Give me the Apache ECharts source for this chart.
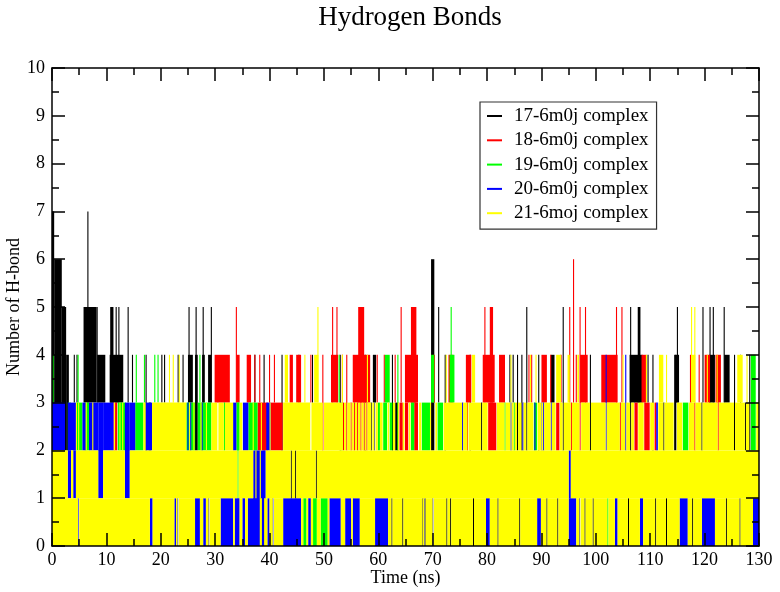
<!DOCTYPE html>
<html>
<head>
<meta charset="utf-8">
<script src="https://cdn.jsdelivr.net/npm/echarts@6/dist/echarts.min.js"></script>
<style>
html,body{margin:0;padding:0;background:#fff;}
#chart{width:780px;height:592px;}
</style>
</head>
<body>
<div id="chart"></div>
<script>
// Each entry: [time start (ns), time end (ns), lowest H-bond count, highest H-bond count]
// i.e. the range the H-bond count fluctuates over during that time window.
var seriesNames = ['17-6m0j complex', '18-6m0j complex', '19-6m0j complex', '20-6m0j complex', '21-6moj complex'];
var seriesColors = ['#000000', '#ff0000', '#00ff00', '#0000ff', '#ffff00'];

var hb17 = [
  [0,0.4,2,7],[0.4,1.8,2,6],[1.8,2.6,2,5],[2.6,3.1,2,4],[4.1,4.1,3,4],[4.6,4.6,3,4],
  [5.8,8.2,3,5],[6.6,6.6,3,7],[8.3,8.3,3,5],[8.3,9.8,3,4],
  [10.7,11.3,3,5],[11.8,11.8,3,5],[12.3,12.3,3,5],[10.6,13.1,3,4],[14.0,14.0,3,5],
  [14.8,14.8,3,4],[17.3,17.3,2,4],[17.8,18.2,2,3],[20.2,20.2,3,4],[20.7,20.7,3,4],
  [23.2,23.2,3,4],[24.1,24.1,3,4],[25.0,25.9,3,4],[25.2,25.2,3,5],
  [26.3,26.8,2,4],[26.5,26.5,3,5],[27.6,28.1,3,4],[27.8,27.8,3,5],[28.7,29.3,3,4],[29.3,29.3,3,5],
  [37.3,37.3,3,4],[39.0,39.0,2,4],[42.3,42.3,2,4],[44.0,44.0,1,2],[44.8,44.8,1,2],[45.4,45.4,3,4],
  [47.9,47.9,3,4],[48.6,48.6,1,2],[53.0,53.0,2,4],
  [57.6,57.6,2,4],[58.7,58.9,2,3],[59.0,59.6,3,4],[62.6,62.6,2,4],[63.1,63.7,2,3],
  [62.5,62.5,0,1],[64.5,64.5,0,1],[68.2,68.2,0,1],[68.6,68.6,0,1],[72.6,72.6,0,1],[73.3,73.3,0,1],
  [77.5,77.5,0,1],[82.0,82.0,0,1],[86.0,86.0,0,1],[91.0,91.0,0,1],[93.0,93.0,0,1],[98.0,98.0,0,1],
  [99.5,99.5,0,1],[106.0,106.0,0,1],[111.0,111.0,0,1],[113.0,113.0,0,1],[117.8,117.8,0,1],
  [124.0,124.0,0,1],[126.5,126.5,0,1],
  [69.7,70.3,2,6],[71.1,71.1,3,5],[72.3,72.3,2,4],[76.9,76.9,2,4],[79.0,79.0,2,3],
  [84.2,84.2,3,4],[84.8,84.8,3,4],[85.6,85.6,2,4],[86.4,86.4,2,4],[87.3,87.3,2,5],
  [89.5,89.5,2,4],[91.7,92.4,3,4],[94.0,94.0,2,5],[99.0,99.0,2,4],
  [106.2,108.6,3,4],[106.4,106.4,2,5],[107.7,108.2,3,5],[109.6,109.6,3,4],[110.5,110.5,2,4],
  [112.5,112.5,2,3],[114.4,114.8,2,4],[114.6,115.3,3,4],[115.0,115.0,3,5],
  [119.5,119.5,2,3],[119.7,119.7,3,5],[120.8,121.9,3,4],[121.0,121.0,3,5],[121.6,121.6,3,5],
  [123.6,124.6,3,4],[123.6,123.6,3,5],[125.5,125.5,2,4],[126.6,126.6,3,4],[127.5,127.5,2,3],[128.3,128.3,2,4]
];

var hb18 = [
  [11.3,12.0,2,3],[29.9,32.7,3,4],[33.9,33.9,3,5],[33.9,34.5,3,4],[35.8,36.6,3,4],
  [37.3,37.3,3,4],[38.2,38.2,3,4],[40.0,40.0,3,4],[40.9,40.9,3,4],[37.8,39.7,2,3],[40.2,42.4,2,3],
  [43.7,44.3,3,4],[44.9,45.8,3,4],[47.6,47.6,3,4],[49.8,49.8,2,4],
  [51.3,52.6,3,4],[51.6,51.6,3,5],[52.4,52.4,3,5],[53.4,53.4,3,4],[54.2,54.2,2,4],
  [53.6,53.6,2,3],[55.0,55.0,2,3],[55.3,58.5,3,4],[56.3,57.4,3,5],
  [55.6,55.6,2,3],[56.2,56.2,2,3],[56.8,56.8,2,3],[57.4,57.4,2,3],[57.9,57.9,2,3],
  [59.8,59.8,3,4],[61.1,61.1,3,4],[63.1,63.1,3,4],[63.9,64.5,2,3],[64.2,64.2,3,5],
  [64.9,67.3,3,4],[66.0,67.0,3,5],[64.9,65.5,2,3],[66.6,67.3,2,3],
  [70.0,70.4,3,4],[72.9,73.8,3,4],[76.1,77.1,3,4],[76.4,76.6,2,3],
  [79.2,81.4,3,4],[79.6,79.6,3,5],[80.5,81.1,3,5],[80.2,81.7,2,3],[82.2,83.3,3,4],
  [87.7,87.7,3,4],[88.2,88.2,3,4],[90.0,91.0,3,4],[91.7,91.7,3,4],[93.6,93.6,3,4],[92.7,93.3,2,3],
  [95.2,95.2,3,5],[95.5,95.5,2,3],[95.9,95.9,3,6],[96.4,96.4,3,4],[97.1,98.5,3,4],[97.1,97.1,2,5],[98.1,98.1,3,5],
  [101.0,104.0,3,4],[103.8,103.8,3,5],[104.5,104.5,2,3],[104.8,104.8,3,5],
  [107.1,107.7,2,3],[108.4,109.3,3,4],[108.9,109.9,2,3],[110.8,111.1,2,3],
  [117.3,117.6,3,4],[118.2,118.2,2,3],[119.0,119.0,3,4],[120.0,121.0,3,4],[122.0,123.0,3,4],[122.5,122.5,2,3]
];

var hb19 = [
  [0.2,0.2,2,4],[2.9,3.5,2,3],[4.4,5.6,2,3],[4.8,4.8,3,4],[6.0,6.9,2,3],
  [12.1,13.6,2,3],[15.5,15.5,3,4],[15.3,16.8,2,3],[17.0,17.0,3,4],[18.9,18.9,3,4],[19.5,19.5,3,4],
  [24.7,26.3,2,3],[26.8,29.3,2,3],[27.2,27.2,3,4],[31.7,31.7,2,3],[33.9,34.5,2,3],[34.2,34.2,1,3],[36.1,37.8,2,3],
  [46.2,46.8,0,1],[48.0,48.7,0,1],[49.4,50.7,0,1],
  [52.8,52.8,3,4],[53.3,53.3,2,3],[59.9,60.3,2,3],[60.9,61.6,2,3],[61.2,62.1,3,4],[62.1,62.6,2,3],[63.6,63.6,2,4],
  [66.0,66.6,2,3],[68.0,69.5,2,3],[69.7,70.3,3,4],[70.9,71.9,2,3],[73.1,74.0,3,4],[73.4,73.4,3,5],
  [83.3,83.3,2,3],[85.0,85.0,2,3],[88.6,89.2,2,3],[102.2,102.2,0,1],[116.0,117.0,2,3],[128.5,129.4,2,4]
];

var hb20 = [
  [0,2.4,2,3],[2.9,4.4,2,3],[2.9,3.5,1,2],[3.9,4.4,1,2],[4.8,5.0,0,1],[5.6,6.2,2,3],
  [6.8,8.5,2,3],[8.5,9.4,1,3],[9.4,11.3,2,3],[13.4,14.3,1,3],[14.3,15.3,2,3],
  [17.2,18.4,2,3],[18.0,18.5,0,1],[22.5,22.8,0,1],[23.1,23.3,0,1],[25.0,25.0,2,3],[25.5,25.5,2,3],[27.6,27.6,2,3],
  [26.3,27.2,0,1],[27.8,28.3,0,1],[28.8,29.0,0,1],
  [31.0,33.3,0,1],[33.3,33.9,2,3],[33.6,34.5,0,1],[35.0,35.5,0,1],[35.1,36.1,2,3],
  [36.0,38.2,0,1],[37.0,39.3,0,2],[38.6,39.0,0,1],[39.4,40.2,2,3],[39.6,40.0,0,1],[40.6,40.8,0,1],
  [42.5,45.8,0,1],[47.1,47.6,0,1],[51.0,53.1,0,1],[53.9,55.0,0,1],[55.3,56.6,0,1],[59.3,59.5,2,3],[59.4,61.8,0,1],
  [70.0,70.2,0,1],[75.5,75.5,2,3],[79.8,80.5,0,1],[84.4,84.4,2,3],[86.6,86.6,2,3],
  [88.8,88.8,2,3],[89.2,89.9,0,1],[90.1,90.1,2,3],[90.4,90.4,2,3],[91.8,91.8,2,3],
  [95.0,96.4,0,1],[95.0,95.4,1,2],[97.0,97.2,0,1],
  [101.9,101.9,2,4],[103.5,104.0,0,1],[105.5,105.5,2,4],[108.1,108.7,0,1],[111.1,111.4,2,3],
  [115.4,116.9,0,1],[119.5,121.9,0,1],[128.9,130,0,1]
];

var hb21 = [
  // 0 to 1
  [0,4.8,0,1],[5.0,18.0,0,1],[18.5,22.5,0,1],[22.8,23.1,0,1],[23.3,26.3,0,1],[27.2,27.8,0,1],
  [28.3,28.8,0,1],[29.0,31.0,0,1],[33.3,33.6,0,1],[34.5,35.0,0,1],[35.5,36.0,0,1],[38.2,38.6,0,1],
  [39.0,39.6,0,1],[40.0,40.6,0,1],[40.8,42.5,0,1],[45.8,46.2,0,1],[46.8,47.1,0,1],[47.6,48.0,0,1],
  [48.7,49.4,0,1],[50.7,51.0,0,1],[53.1,53.9,0,1],[55.0,55.3,0,1],[56.6,59.4,0,1],[61.8,62.4,0,1],
  [62.6,64.4,0,1],[64.6,68.1,0,1],[68.3,68.5,0,1],[68.7,70.0,0,1],[70.2,72.5,0,1],[72.7,73.2,0,1],
  [73.4,77.4,0,1],[77.6,79.8,0,1],[80.5,81.9,0,1],[82.1,85.9,0,1],[86.1,89.2,0,1],[89.9,90.9,0,1],
  [91.1,92.9,0,1],[93.1,95.0,0,1],[96.4,97.0,0,1],[97.2,97.9,0,1],[98.1,99.4,0,1],[99.6,102.1,0,1],
  [102.3,103.5,0,1],[104.0,105.9,0,1],[106.1,108.1,0,1],[108.7,110.9,0,1],[111.1,112.9,0,1],
  [113.1,115.4,0,1],[116.9,117.7,0,1],[117.9,119.5,0,1],[121.9,123.9,0,1],[124.1,126.4,0,1],[126.6,128.9,0,1],
  // 1 to 2
  [0,2.9,1,2],[3.5,3.9,1,2],[4.4,8.5,1,2],[9.4,13.4,1,2],[14.3,34.1,1,2],[34.3,37.0,1,2],
  [37.5,37.5,1,2],[38.3,38.3,1,2],[39.3,43.9,1,2],[44.1,44.7,1,2],[44.9,48.5,1,2],[48.7,95.0,1,2],[95.4,130,1,2],
  // 2 to 3
  [4.5,4.5,2,3],[4.9,4.9,2,3],[6.3,6.3,2,3],[7.5,7.5,2,3],[11.5,11.7,2,3],[12.5,12.5,2,3],[13.0,13.0,2,3],
  [16.8,17.2,2,3],[18.4,24.7,2,3],[25.3,25.3,2,3],[26.1,26.1,2,3],[27.4,27.4,2,3],[28.4,28.4,2,3],
  [29.3,30.4,2,3],[30.6,31.6,2,3],[31.8,33.3,2,3],[34.5,35.0,2,3],[37.0,37.0,2,3],[38.5,38.5,2,3],[40.1,40.1,2,3],
  [42.5,47.5,2,3],[47.7,49.8,2,3],[50.0,53.5,2,3],[53.7,54.1,2,3],[54.3,54.9,2,3],[55.1,55.5,2,3],
  [55.7,56.1,2,3],[56.3,56.7,2,3],[56.9,57.3,2,3],[57.5,57.8,2,3],[58.0,58.7,2,3],[58.9,59.3,2,3],
  [59.5,59.9,2,3],[60.3,60.8,2,3],[61.7,62.0,2,3],[62.7,63.1,2,3],[63.7,63.9,2,3],[64.5,64.8,2,3],
  [65.6,65.9,2,3],[67.5,67.9,2,3],[69.6,69.7,2,3],[70.5,70.8,2,3],[72.0,75.4,2,3],[75.6,76.4,2,3],
  [76.6,78.9,2,3],[79.1,80.1,2,3],[81.8,83.2,2,3],[83.4,84.3,2,3],[84.5,84.9,2,3],[85.1,85.5,2,3],
  [85.7,86.3,2,3],[86.7,87.2,2,3],[87.4,88.5,2,3],[89.3,90.0,2,3],[90.2,90.3,2,3],[90.5,91.7,2,3],
  [91.9,92.6,2,3],[93.4,93.9,2,3],[94.1,95.4,2,3],[95.6,97.0,2,3],[97.3,98.9,2,3],[99.1,101.8,2,3],
  [102.0,104.4,2,3],[104.6,105.4,2,3],[105.6,106.3,2,3],[106.5,107.0,2,3],[107.8,108.8,2,3],
  [110.0,110.7,2,3],[111.5,112.4,2,3],[112.6,114.3,2,3],[114.9,115.9,2,3],[117.1,118.1,2,3],
  [118.3,119.4,2,3],[119.6,122.4,2,3],[122.6,125.4,2,3],[125.6,127.4,2,3],[127.6,128.2,2,3],[129.5,130,2,3],
  // above 3
  [21.6,21.6,3,4],[22.3,22.3,3,4],[23.4,23.4,3,4],[42.8,43.4,3,4],[46.5,46.5,3,4],[48.2,49.0,3,4],
  [48.9,48.9,3,5],[53.4,53.4,3,4],[58.0,58.0,3,4],[72.5,72.5,3,4],[77.2,77.8,3,4],[84.4,84.4,3,4],
  [88.0,88.0,3,4],[89.0,89.0,3,4],[92.7,93.6,3,4],[94.8,95.2,3,4],[96.6,96.9,3,4],[105.0,105.0,3,4],
  [109.3,109.3,3,4],[111.6,112.4,3,4],[113.0,113.0,3,4],[117.6,118.3,3,4],[117.6,117.6,3,5],
  [118.2,118.2,3,5],[120.5,120.5,3,4],[122.3,122.3,3,4],[126.0,127.0,3,4],[127.8,127.8,3,4]
];

var allData = [hb17, hb18, hb19, hb20, hb21];

var SERIF = '"Liberation Serif", "DejaVu Serif", serif';

function renderBand(params, api) {
  var a = api.coord([api.value(0), api.value(3)]);
  var b = api.coord([api.value(1), api.value(2)]);
  var x = a[0], w = b[0] - a[0];
  if (w < 1.1) { x = a[0] - 0.55; w = 1.1; }
  return {
    type: 'rect',
    shape: { x: x, y: a[1], width: w, height: b[1] - a[1] },
    style: { fill: api.visual('color') }
  };
}

var tickStyle = { color: '#000', width: 1.5 };
function axisCommon(extra) {
  var o = {
    type: 'value',
    axisLine: { show: true, onZero: false, lineStyle: { color: '#000', width: 1.5 } },
    axisTick: { show: true, inside: true, length: 13, lineStyle: tickStyle },
    minorTick: { show: true, splitNumber: 2, length: 7, lineStyle: tickStyle },
    splitLine: { show: false },
    minorSplitLine: { show: false },
    axisLabel: { color: '#000', fontFamily: SERIF, fontSize: 18 },
    nameMoveOverlap: false,
    z: 10
  };
  for (var k in extra) o[k] = extra[k];
  return o;
}

var chart = echarts.init(document.getElementById('chart'), null, { renderer: 'canvas' });
chart.setOption({
  animation: false,
  backgroundColor: '#fff',
  title: {
    text: 'Hydrogen Bonds',
    left: 405, top: -1, textAlign: 'center',
    textStyle: { fontFamily: SERIF, fontSize: 27, fontWeight: 'normal', color: '#000' }
  },
  legend: {
    orient: 'vertical',
    left: 480, top: 102,
    padding: [4, 8, 6, 7],
    itemWidth: 15, itemHeight: 2, itemGap: 4.3,
    borderColor: '#333', borderWidth: 1.2,
    data: seriesNames.map(function (n) { return { name: n, icon: 'rect' }; }),
    textStyle: { fontFamily: SERIF, fontSize: 19, color: '#000', lineHeight: 20, padding: [0, 0, 0, 7] },
    selectedMode: false
  },
  grid: { left: 52, right: 21, top: 68, bottom: 46, outerBoundsMode: 'none', containLabel: false },
  xAxis: [
    axisCommon({ min: 0, max: 130, interval: 10, position: 'bottom',
      name: 'Time (ns)', nameLocation: 'middle', nameGap: 23,
      nameTextStyle: { fontFamily: SERIF, fontSize: 18, color: '#000' },
      axisLabel: { color: '#000', fontFamily: SERIF, fontSize: 18, margin: 5 } }),
    axisCommon({ min: 0, max: 130, interval: 10, position: 'top', axisLabel: { show: false } })
  ],
  yAxis: [
    axisCommon({ min: 0, max: 10, interval: 1, position: 'left',
      name: 'Number of H-bond', nameLocation: 'middle', nameGap: 29,
      nameTextStyle: { fontFamily: SERIF, fontSize: 18, color: '#000' },
      axisLabel: { color: '#000', fontFamily: SERIF, fontSize: 18, margin: 7 } }),
    axisCommon({ min: 0, max: 10, interval: 1, position: 'right', axisLabel: { show: false } })
  ],
  series: allData.map(function (d, i) {
    return {
      name: seriesNames[i],
      type: 'custom',
      renderItem: renderBand,
      xAxisIndex: 0, yAxisIndex: 0,
      encode: { x: [0, 1], y: [2, 3] },
      itemStyle: { color: seriesColors[i] },
      clip: true,
      data: d,
      z: 2 + i
    };
  })
});
</script>
</body>
</html>
